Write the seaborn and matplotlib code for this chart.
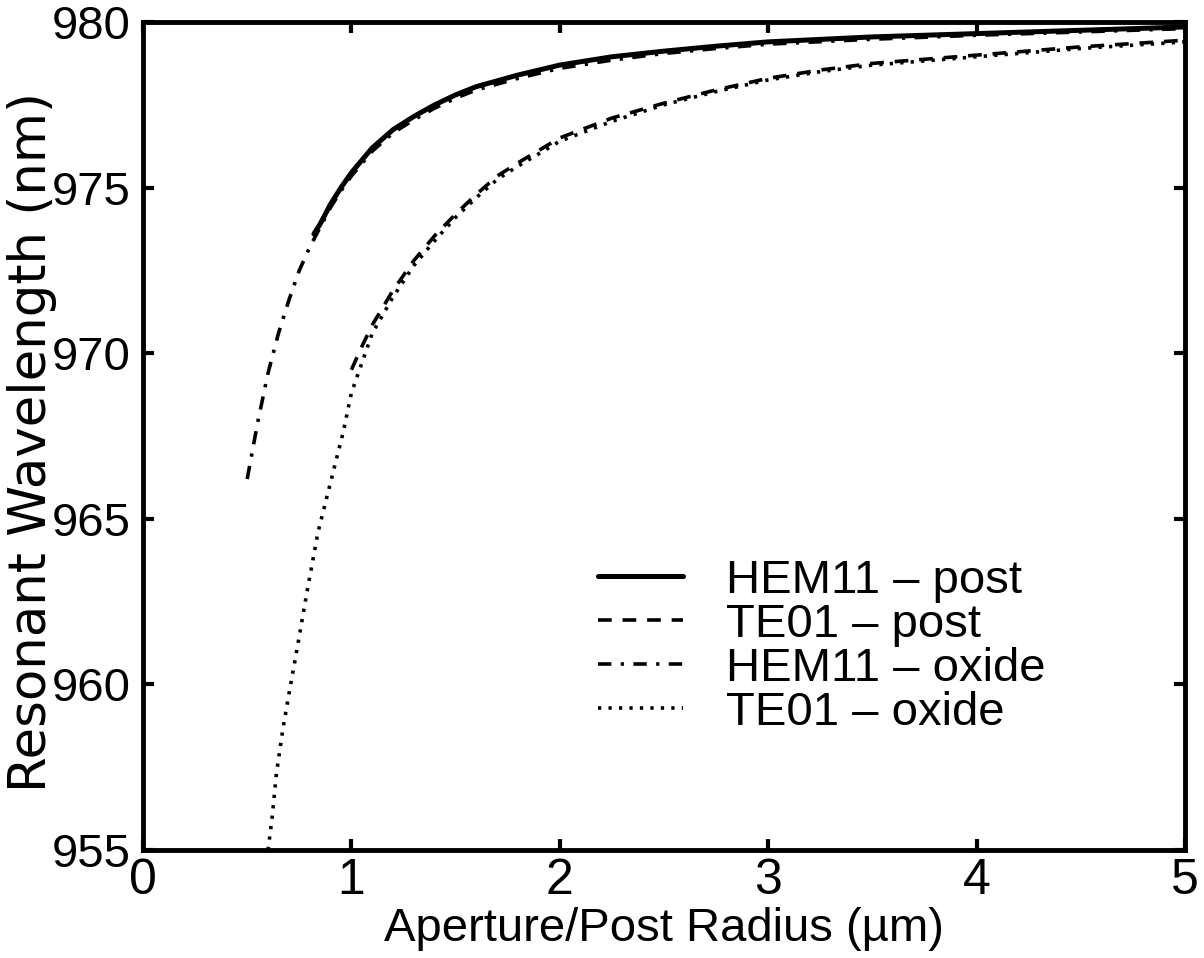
import matplotlib
matplotlib.use("Agg")
import matplotlib.pyplot as plt
import seaborn as sns
import pandas as pd

# ---- data ----
hem_oxide_x = [0.50, 0.55, 0.60, 0.65, 0.70, 0.75, 0.80, 0.85, 0.90, 0.95, 1.00,
               1.10, 1.20, 1.30, 1.40, 1.50, 1.60, 1.80, 2.00, 2.25, 2.50, 2.75,
               3.00, 3.50, 4.00, 4.50, 5.00]
hem_oxide_y = [966.2, 967.9, 969.4, 970.6, 971.6, 972.5, 973.2, 973.8, 974.4, 974.9, 975.35,
               976.1, 976.65, 977.05, 977.4, 977.7, 977.95, 978.3, 978.6, 978.85, 979.05, 979.2,
               979.33, 979.48, 979.6, 979.7, 979.8]

hem_post_x = [0.82, 0.85, 0.90, 0.95, 1.00, 1.10, 1.20, 1.30, 1.40, 1.50, 1.60, 1.80,
              2.00, 2.25, 2.50, 2.75, 3.00, 3.50, 4.00, 4.50, 5.00]
hem_post_y = [973.6, 973.9, 974.5, 975.0, 975.45, 976.2, 976.75, 977.15, 977.5, 977.8, 978.05, 978.4,
              978.7, 978.95, 979.12, 979.27, 979.4, 979.55, 979.65, 979.75, 979.85]

te_post_x = [1.00, 1.05, 1.10, 1.20, 1.30, 1.40, 1.50, 1.60, 1.70, 1.80, 2.00, 2.25,
             2.50, 2.75, 3.00, 3.25, 3.50, 4.00, 4.50, 5.00]
te_post_y = [969.5, 970.2, 970.85, 971.9, 972.8, 973.55, 974.2, 974.8, 975.35, 975.75, 976.5, 977.1,
             977.55, 977.95, 978.3, 978.55, 978.75, 979.0, 979.25, 979.45]

te_oxide_x = [0.60, 0.62, 0.64, 0.67, 0.70, 0.74, 0.79, 0.84, 0.90, 0.96, 1.00, 1.05,
              1.10, 1.20, 1.30, 1.40, 1.50, 1.60, 1.70, 1.80, 2.00, 2.25, 2.50, 2.75,
              3.00, 3.25, 3.50, 4.00, 4.50, 5.00]
te_oxide_y = [955.0, 956.0, 957.3, 958.6, 959.7, 961.1, 962.9, 964.6, 966.1, 967.6, 968.8, 969.7,
              970.6, 971.7, 972.65, 973.4, 974.1, 974.7, 975.25, 975.65, 976.4, 977.0,
              977.5, 977.9, 978.25, 978.5, 978.7, 978.95, 979.2, 979.4]

labels = ["HEM11 \u2013 post", "TE01 \u2013 post", "HEM11 \u2013 oxide", "TE01 \u2013 oxide"]
x_ticks = [0, 1, 2, 3, 4, 5]
y_ticks = [955, 960, 965, 970, 975, 980]

sns.set_theme(style="white")
plt.rcParams["font.family"] = ["Liberation Sans", "DejaVu Sans"]
plt.rcParams["text.color"] = "black"
plt.rcParams["axes.labelcolor"] = "black"
plt.rcParams["xtick.color"] = "black"
plt.rcParams["ytick.color"] = "black"

fig = plt.figure(figsize=(12.04, 9.58), dpi=100)
ax = fig.add_axes([143 / 1204, 1 - 850 / 958, (1185 - 143) / 1204, (850 - 22) / 958])

series = [
    (hem_post_x, hem_post_y, labels[0], "-", 3.6),
    (te_post_x, te_post_y, labels[1], (0, (3.8, 3.0)), 2.6),
    (hem_oxide_x, hem_oxide_y, labels[2], (0, (3.7, 2.6, 0.9, 2.6)), 2.6),
    (te_oxide_x, te_oxide_y, labels[3], (0, (0.9, 2.0)), 2.6),
]
for xs, ys, lab, ls, lw in series:
    df = pd.DataFrame({"x": xs, "y": ys})
    sns.lineplot(data=df, x="x", y="y", ax=ax, color="black", linestyle=ls,
                 linewidth=lw, label=lab)

ax.set_xlim(0, 5)
ax.set_ylim(955, 980)
ax.set_xticks(x_ticks)
ax.set_yticks(y_ticks)
ax.set_xticklabels([str(t) for t in x_ticks], fontsize=36)
ax.set_yticklabels([str(t) for t in y_ticks], fontsize=34)
ax.tick_params(direction="in", length=8, width=3, top=True, right=True,
               bottom=True, left=True, colors="black")
ax.tick_params(axis="x", pad=6)
ax.tick_params(axis="y", pad=9)
for s in ax.spines.values():
    s.set_linewidth(3.5)
    s.set_color("black")

ax.set_xlabel("Aperture/Post Radius (\u00b5m)", fontsize=34, labelpad=2)
ax.set_ylabel("Resonant Wavelength (nm)", fontsize=37, family=["DejaVu Sans"])
ax.yaxis.set_label_coords(-0.083, 0.493)

leg = ax.legend(loc="upper left", bbox_to_anchor=(0.4367, 0.352), frameon=False,
                fontsize=34, handlelength=1.8, handletextpad=0.9,
                labelspacing=0.0, borderpad=0, borderaxespad=0)
for t in leg.get_texts():
    t.set_color("black")

fig.savefig("out.png", dpi=100, facecolor="white")
